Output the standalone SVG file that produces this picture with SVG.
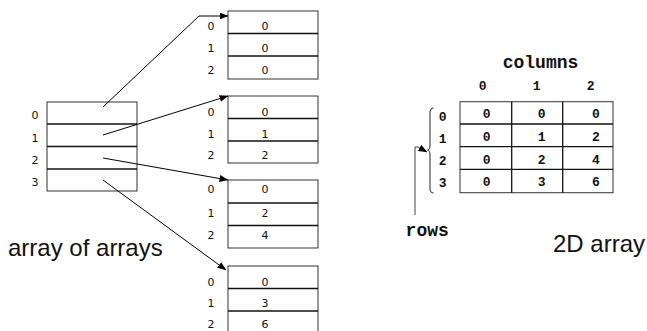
<svg xmlns="http://www.w3.org/2000/svg" width="647" height="331" viewBox="0 0 647 331">
<defs>
<marker id="ah" markerWidth="9" markerHeight="7" refX="8.5" refY="3.5" orient="auto" markerUnits="userSpaceOnUse">
<path d="M0,0 L9,3.5 L0,7 Z" fill="#000"/>
</marker>
<style>
.box{fill:#fff;stroke:#333;stroke-width:1}
.div{stroke:#111;stroke-width:1.3}
.num{font-family:"DejaVu Sans",sans-serif;font-size:11px;fill:#111;text-anchor:middle}
.mono{font-family:"Liberation Mono",monospace;font-weight:bold;font-size:13px;fill:#111;text-anchor:middle}
.monoL{font-family:"Liberation Mono",monospace;font-weight:bold;font-size:18px;fill:#111;text-anchor:middle}
.big{font-family:"Liberation Sans",Arial,sans-serif;font-size:24px;fill:#111}
.conn{fill:none;stroke:#000;stroke-width:1}
</style>
</defs>
<rect width="647" height="331" fill="#fff"/>

<g id="outer-array">
<rect class="box" x="47" y="102" width="90" height="89"/>
<line class="div" x1="47" y1="124" x2="137" y2="124"/>
<line class="div" x1="47" y1="146.5" x2="137" y2="146.5"/>
<line class="div" x1="47" y1="169" x2="137" y2="169"/>
<text class="num" x="35" y="119.3">0</text>
<text class="num" x="35" y="142.3">1</text>
<text class="num" x="35" y="164">2</text>
<text class="num" x="35" y="186">3</text>
</g>

<g id="row0">
<rect class="box" x="228" y="11" width="90" height="68"/>
<line class="div" x1="228" y1="33.5" x2="318" y2="33.5"/>
<line class="div" x1="228" y1="56" x2="318" y2="56"/>
<text class="num" x="211" y="30">0</text><text class="num" x="265" y="30">0</text>
<text class="num" x="211" y="51.7">1</text><text class="num" x="265" y="51.7">0</text>
<text class="num" x="211" y="74">2</text><text class="num" x="265" y="74">0</text>
</g>

<g id="row1">
<rect class="box" x="228" y="96" width="90" height="67"/>
<line class="div" x1="228" y1="118.5" x2="318" y2="118.5"/>
<line class="div" x1="228" y1="141" x2="318" y2="141"/>
<text class="num" x="211" y="116">0</text><text class="num" x="265" y="116">0</text>
<text class="num" x="211" y="138.3">1</text><text class="num" x="265" y="138.3">1</text>
<text class="num" x="211" y="159">2</text><text class="num" x="265" y="159">2</text>
</g>

<g id="row2">
<rect class="box" x="228" y="180" width="90" height="68"/>
<line class="div" x1="228" y1="203" x2="318" y2="203"/>
<line class="div" x1="228" y1="225.5" x2="318" y2="225.5"/>
<text class="num" x="211" y="193.3">0</text><text class="num" x="265" y="193.3">0</text>
<text class="num" x="211" y="217.3">1</text><text class="num" x="265" y="217.3">2</text>
<text class="num" x="211" y="239.3">2</text><text class="num" x="265" y="239.3">4</text>
</g>

<g id="row3">
<rect class="box" x="228" y="266" width="90" height="68"/>
<line class="div" x1="228" y1="288.5" x2="318" y2="288.5"/>
<line class="div" x1="228" y1="311" x2="318" y2="311"/>
<text class="num" x="211" y="286">0</text><text class="num" x="265" y="286">0</text>
<text class="num" x="211" y="307.3">1</text><text class="num" x="265" y="307.3">3</text>
<text class="num" x="211" y="328.3">2</text><text class="num" x="265" y="328.3">6</text>
</g>

<g id="connectors">
<polyline class="conn" points="103,107 199,16 228,16" marker-end="url(#ah)"/>
<line class="conn" x1="103" y1="135" x2="228" y2="96" marker-end="url(#ah)"/>
<line class="conn" x1="103" y1="158" x2="228" y2="180" marker-end="url(#ah)"/>
<line class="conn" x1="103" y1="180" x2="226" y2="270" marker-end="url(#ah)"/>
<polyline class="conn" style="stroke:#444" points="415,215 415,147 418,147 427,152" marker-end="url(#ah)"/>
</g>

<g id="label-array-of-arrays">
<text class="big" x="8" y="256">array of arrays</text>
</g>

<g id="table2d">
<text class="monoL" x="540.5" y="68">columns</text>
<text class="mono" x="482.7" y="90">0</text>
<text class="mono" x="536.7" y="90">1</text>
<text class="mono" x="590.7" y="90">2</text>
<rect class="box" x="460" y="101.7" width="153" height="91"/>
<line class="div" x1="460" y1="124" x2="613" y2="124"/>
<line class="div" x1="460" y1="146.7" x2="613" y2="146.7"/>
<line class="div" x1="460" y1="169.3" x2="613" y2="169.3"/>
<line class="div" x1="511.7" y1="101.7" x2="511.7" y2="192.7"/>
<line class="div" x1="562.7" y1="101.7" x2="562.7" y2="192.7"/>
<text class="mono" x="486.7" y="118.3">0</text><text class="mono" x="541.7" y="118.3">0</text><text class="mono" x="596" y="118.3">0</text>
<text class="mono" x="486.7" y="141">0</text><text class="mono" x="541.7" y="141">1</text><text class="mono" x="596" y="141">2</text>
<text class="mono" x="486.7" y="163.5">0</text><text class="mono" x="541.7" y="163.5">2</text><text class="mono" x="596" y="163.5">4</text>
<text class="mono" x="486.7" y="185.5">0</text><text class="mono" x="541.7" y="185.5">3</text><text class="mono" x="596" y="185.5">6</text>
<text class="mono" x="442.7" y="120.7">0</text>
<text class="mono" x="442.7" y="143.3">1</text>
<text class="mono" x="442.7" y="165">2</text>
<text class="mono" x="442.7" y="186.7">3</text>
<path d="M433.5,108 Q430,108 430,113 L430,145 Q430,150 427.5,150 Q430,150 430,155 L430,188 Q430,193 433.5,193" fill="none" stroke="#222" stroke-width="1"/>
<text class="monoL" x="427.2" y="236">rows</text>
</g>

<g id="label-2d-array">
<text class="big" x="553" y="252">2D array</text>
</g>
</svg>
